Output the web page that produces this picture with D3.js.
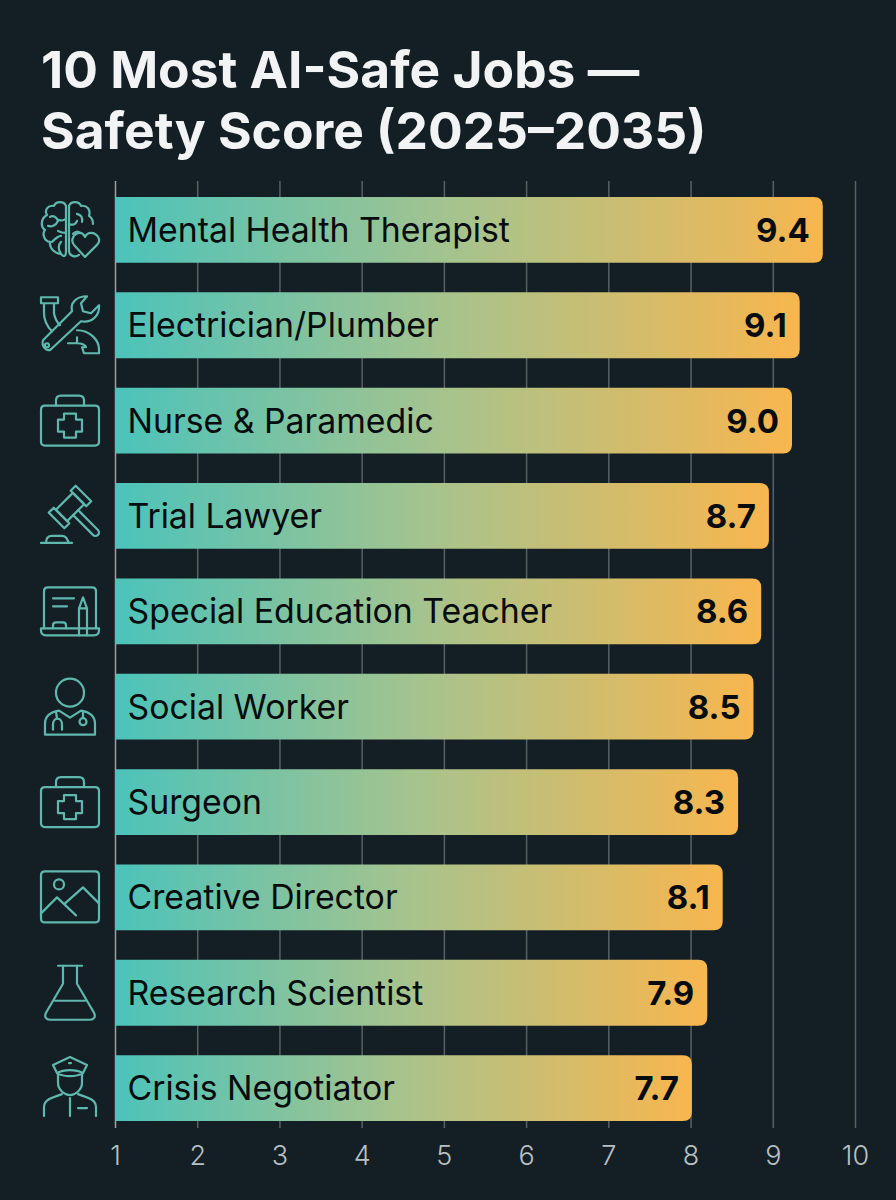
<!DOCTYPE html>
<html>
<head>
<meta charset="utf-8">
<script src="https://cdn.jsdelivr.net/npm/d3@7"></script>
<style>
  html, body { margin: 0; padding: 0; background: #141f25; }
  svg { display: block; }
  text { font-family: Inter, "Noto Sans", sans-serif; }
</style>
</head>
<body>
<svg id="chart" width="896" height="1200"></svg>
<script>
const titleLines = ["10 Most AI-Safe Jobs —", "Safety Score (2025–2035)"];
const jobs = ["Mental Health Therapist", "Electrician/Plumber", "Nurse & Paramedic", "Trial Lawyer",
  "Special Education Teacher", "Social Worker", "Surgeon", "Creative Director", "Research Scientist", "Crisis Negotiator"];
const scores = [9.4, 9.1, 9.0, 8.7, 8.6, 8.5, 8.3, 8.1, 7.9, 7.7];
const axisTicks = [1, 2, 3, 4, 5, 6, 7, 8, 9, 10];
const iconKeys = ["brain", "tools", "kit", "gavel", "board", "carer", "kit", "picture", "flask", "officer"];

// Line icons, drawn around the centre of each row's icon cell.
const gavelTurn = "translate(0,-9) rotate(-45)";
const iconPaths = {
  brain: [
    { d: "M-4,-24 C-6,-29 -14,-29 -16,-24 C-22,-25 -26,-20 -23,-15 C-29,-12 -30,-3 -25,0 C-28,4 -26,11 -20,12 C-21,19 -14,24 -9,24 C-6,28 -4,26 -4,22 Z" },
    { d: "M-1,-24 C1,-29 9,-29 11,-24 C17,-25 21,-20 19,-14 C22,-12 23,-9 23,-6 M-1,-24 V21 C-1,26 5,28 9,25" },
    { d: "M-20,-13 C-17,-15 -13,-13 -12,-9 M-12,-9 C-14,-4 -19,-3 -22,-4 M-4,-11 C-7,-9 -9,-9 -11,-10 M-18,12 C-15,9 -11,6 -9,6 M-9,12 C-12,15 -12,20 -9,24 M-4,3 C-7,3 -10,2 -12,1 M-1,-6 C3,-4 6,-6 7,-9 M7,-16 C11,-15 13,-13 12,-8 M3,4 C6,1 8,1 10,3" },
    { d: "M15,27 L4,15 C0,10 4,3 10,3 C12,3 14,5 15,7 C16,5 18,3 21,3 C27,3 32,10 27,15 Z" }
  ],
  tools: [
    { d: "M-27,15 L2,-14 C0,-22 6,-29 17,-29 L11,-22 L13,-14 L21,-12 L29,-20 C30,-9 21,-2 11,-4 L-19,24 C-23,27 -29,21 -27,15 Z" },
    { d: "M-25,20 a2,2 0 1,0 4,0 a2,2 0 1,0 -4,0" },
    { d: "M-29,-28 H-12 V-22 H-29 Z M-26,-22 V-12 C-26,-4 -22,2 -18,6 M-16,-22 V-12 C-15,-6 -12,-2 -10,0" },
    { d: "M7,5 C20,5 29,15 29,24 V28 H14 L12,22 H16 C16,20 12,18 7,18 H-2 M7,12 V18" }
  ],
  kit: [
    { d: "M-25,-15 H25 Q29,-15 29,-11 V21 Q29,25 25,25 H-25 Q-29,25 -29,21 V-11 Q-29,-15 -25,-15 Z" },
    { d: "M-14,-15 V-20 Q-14,-25 -9,-25 H9 Q14,-25 14,-20 V-15" },
    { d: "M-6,-7 H6 V-1 H12 V11 H6 V17 H-6 V11 H-12 V-1 H-6 Z" }
  ],
  gavel: [
    { d: "M-12,-8 H12 V8 H-12 Z", transform: gavelTurn },
    { d: "M-19,-11 H-12 V11 H-19 Z M12,-11 H19 V11 H12 Z", transform: gavelTurn },
    { d: "M-3.5,8 V36 A3.5,3.5 0 0 0 3.5,36 V8", transform: gavelTurn },
    { d: "M-29,27 H2 M-24,27 C-24,22 -22,20 -18,20 H-8 C-4,20 -3,23 -1,27" }
  ],
  board: [
    { d: "M-26,17 V-20 Q-26,-24 -22,-24 H22 Q26,-24 26,-20 V17" },
    { d: "M-29,17 H29 V19 Q29,24 24,24 H-24 Q-29,24 -29,19 Z" },
    { d: "M-17,-13 H4 M-17,-5 H-3" },
    { d: "M-17,17 V14 Q-17,11 -14,11 H-7 Q-4,11 -4,14 V17" },
    { d: "M9,24 V-3 L13,-14 L17,-3 V24 M9,-3 H17" }
  ],
  carer: [
    { d: "M-14,-14 a14,14 0 1,0 28,0 a14,14 0 1,0 -28,0" },
    { d: "M-25,28 V17 C-25,8 -17,5 -11,4 L0,11 L11,4 C17,5 25,8 25,17 V28 Z" },
    { d: "M-17,23 V18 C-17,10 -8,10 -8,18 V23 M-14,5 L-13,12 M13,5 V11" },
    { d: "M9.5,15 a3.5,3.5 0 1,0 7,0 a3.5,3.5 0 1,0 -7,0" }
  ],
  picture: [
    { d: "M-25,-26 H25 Q29,-26 29,-22 V21 Q29,25 25,25 H-25 Q-29,25 -29,21 V-22 Q-29,-26 -25,-26 Z" },
    { d: "M-16,-13 a5,5 0 1,0 10,0 a5,5 0 1,0 -10,0" },
    { d: "M-29,16 L-13,0 L6,18 M-5,6 L13,-10 L29,6" }
  ],
  flask: [
    { d: "M-12,-27 H12" },
    { d: "M-7,-27 V-9 L-24,20 C-26,24 -24,27 -20,27 H20 C24,27 26,24 24,20 L7,-9 V-27" },
    { d: "M-15,8 H15" }
  ],
  officer: [
    { d: "M0,-31 L-17,-23 L-13,-15 C-6,-11 6,-11 13,-15 L17,-23 Z M-13,-15 C-6,-19 6,-19 13,-15" },
    { d: "M-12,-14 V-5 C-12,2 -5,7 0,7 C5,7 12,2 12,-5 V-14" },
    { d: "M-26,28 V19 C-26,12 -20,10 -8,6 M26,28 V19 C26,12 20,10 8,6 M0,10 V28 M8,20 H17 M-1,-25 H1" }
  ]
};

const svg = d3.select("#chart");

const x = d3.scaleLinear().domain([1, 10]).range([115, 855]);
const y = d3.scaleBand().domain(jobs).range([197, 1121]).paddingInner(0.31).paddingOuter(0);
// Bars carry their own length scale, which starts below the printed axis.
const barEnd = d3.scaleLinear().domain([0, 10]).range([99, 869]);

const defs = svg.append("defs");
const barFill = defs.append("linearGradient").attr("id", "barFill")
  .attr("x1", 0).attr("x2", 1).attr("y1", 0).attr("y2", 0);
barFill.selectAll("stop")
  .data([["0%", "#4cc3ba"], ["50%", "#a9c38c"], ["100%", "#f8b64e"]])
  .join("stop")
  .attr("offset", d => d[0])
  .attr("stop-color", d => d[1]);

// Title
svg.append("g").selectAll("text").data(titleLines).join("text")
  .attr("x", 41)
  .attr("y", (d, i) => 88 + i * 61)
  .attr("font-size", 51.5)
  .attr("font-weight", 700)
  .attr("fill", "#f1f3f4")
  .text(d => d);

// Axis with full-height gridlines
const axisG = svg.append("g")
  .attr("transform", "translate(0,1128)")
  .call(d3.axisBottom(x).tickValues(axisTicks).tickSize(947).tickPadding(0).tickFormat(d3.format("d")));
axisG.select(".domain").remove();
axisG.selectAll(".tick line")
  .attr("y1", 0).attr("y2", -947)
  .attr("stroke", d => d === 1 ? "#9aa1a4" : "#566166")
  .attr("stroke-width", 1.5);
axisG.selectAll(".tick text")
  .attr("y", 37).attr("dy", 0)
  .attr("font-size", 27)
  .attr("font-weight", 300)
  .attr("fill", "#b8c0c3")
  .attr("font-family", "Inter, 'Noto Sans', sans-serif");

// Bars: square on the axis side, rounded at the score end
const barPath = (x0, x1, top, h, r) =>
  `M${x0},${top} H${x1 - r} Q${x1},${top} ${x1},${top + r} V${top + h - r} Q${x1},${top + h} ${x1 - r},${top + h} H${x0} Z`;

const rows = jobs.map((job, i) => ({ job, score: scores[i], icon: iconKeys[i] }));
const rowG = svg.append("g").selectAll("g").data(rows).join("g");

rowG.append("path")
  .attr("d", d => barPath(x(1), barEnd(d.score), y(d.job), y.bandwidth(), 9))
  .attr("fill", "url(#barFill)");

rowG.append("text")
  .attr("x", 127.5)
  .attr("y", d => y(d.job) + y.bandwidth() / 2 + 12)
  .attr("font-size", 33.8)
  .attr("font-weight", 400)
  .attr("fill", "#070c0e")
  .text(d => d.job);

rowG.append("text")
  .attr("x", d => barEnd(d.score) - 13)
  .attr("y", d => y(d.job) + y.bandwidth() / 2 + 12)
  .attr("text-anchor", "end")
  .attr("font-size", 33)
  .attr("font-weight", 700)
  .attr("fill", "#070c0e")
  .text(d => d3.format(".1f")(d.score));

// Row icons
const iconG = rowG.append("g")
  .attr("transform", d => `translate(70,${y(d.job) + y.bandwidth() / 2})`)
  .attr("fill", "none")
  .attr("stroke", "#5fb8ae")
  .attr("stroke-width", 2.2)
  .attr("stroke-linecap", "round")
  .attr("stroke-linejoin", "round");
iconG.selectAll("path")
  .data(d => iconPaths[d.icon])
  .join("path")
  .attr("d", p => p.d)
  .attr("transform", p => p.transform || null);
</script>
</body>
</html>
